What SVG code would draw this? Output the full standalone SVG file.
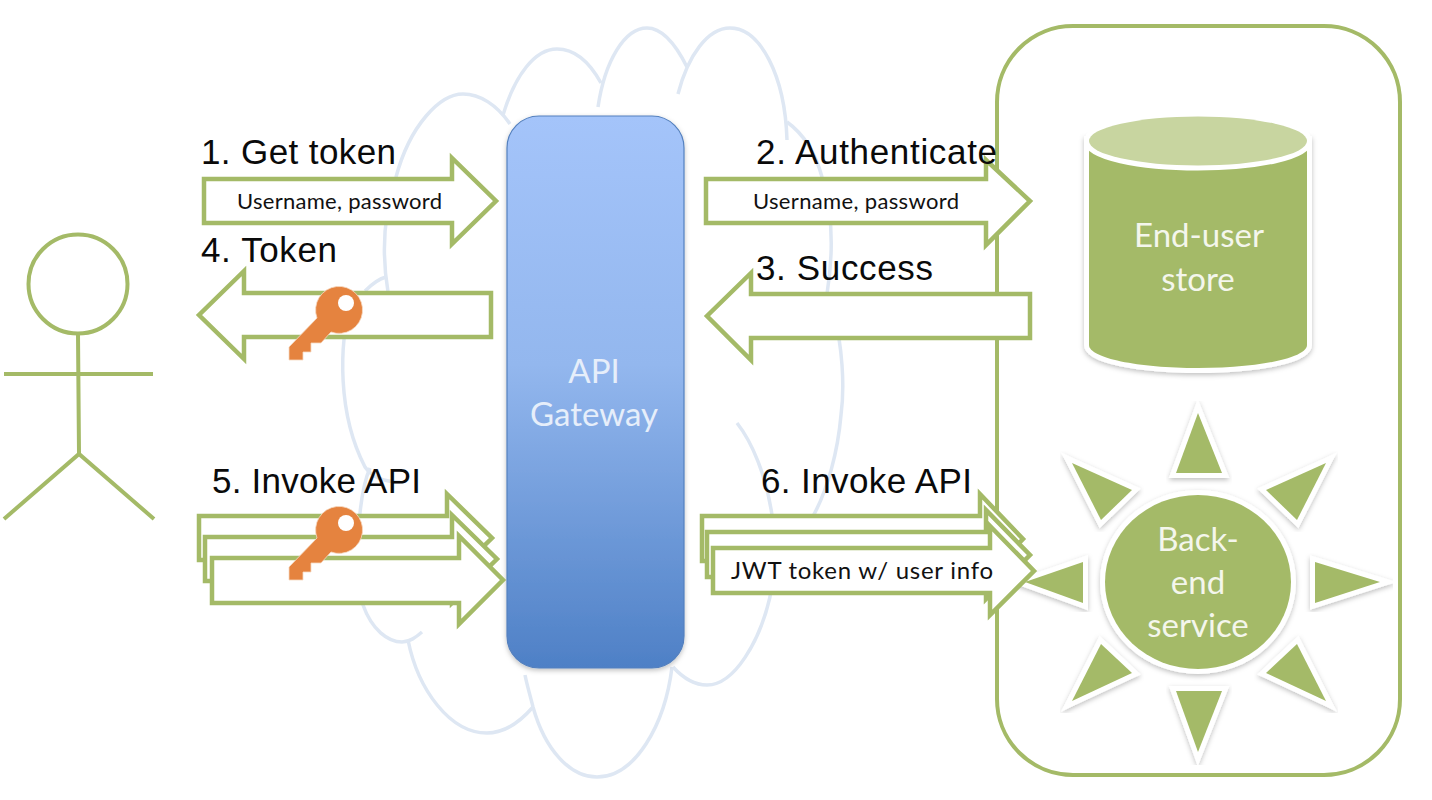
<svg xmlns="http://www.w3.org/2000/svg" width="1432" height="800" viewBox="0 0 1432 800">
<style>
.cloud{fill:none;stroke:#DEE7F3;stroke-width:3.5}
.arrow{fill:#fff;stroke:#A4BA67;stroke-width:4.5;stroke-miterlimit:10}
.fig{fill:none;stroke:#A4BA67;stroke-width:4}
.lbl{font-family:"Liberation Sans",Arial,sans-serif;font-size:35px;fill:#0a0a0a}
.sm{font-family:Lato,"Noto Sans",sans-serif;font-size:22px;fill:#111}
.wt{font-family:Lato,"Noto Sans",sans-serif;font-size:33px;fill:#F4F6EC;text-anchor:middle}
.gw{font-family:Lato,"Noto Sans",sans-serif;font-size:33px;fill:#E6EEFA;text-anchor:middle}
.ray{fill:#A4BA67;stroke:#fff;stroke-width:10;paint-order:stroke;filter:url(#sh)}
.key{fill:#E5833F;stroke:#F6D9C2;stroke-width:.8}
</style>
<defs>
<linearGradient id="gg" x1="0" y1="0" x2="0" y2="1"><stop offset="0" stop-color="#A4C4FA"/><stop offset=".45" stop-color="#93B7EE"/><stop offset="1" stop-color="#4E80C6"/></linearGradient>
<filter id="sh" x="-20%" y="-20%" width="140%" height="140%"><feDropShadow dx="0" dy="2" stdDeviation="2.5" flood-color="#000" flood-opacity=".25"/></filter>
<g id="keyshape"><path class="key" d="M317 318L289 347V360H303V352H311V343H321L331 332A23.5 23.5 0 1 0 317 318Z"/><circle cx="346" cy="303" r="8" fill="#fff"/></g>
</defs>
<rect width="1432" height="800" fill="#fff"/>
<g id="cloud">
<path class="cloud" d="M388 292C381 250 385 210 396 177C410 125 440 94 463 94C480 94 497 105 510 124"/>
<path class="cloud" d="M365 291C372 284 378 279 386 277"/>
<path class="cloud" d="M503 115C515 75 535 49 557 49C575 49 590 63 601 83"/>
<path class="cloud" d="M598 107C605 60 625 28 647 28C662 28 676 45 687 67"/>
<path class="cloud" d="M678 94C688 55 708 28 730 28C760 28 785 75 787 140"/>
<path class="cloud" d="M787 122C805 135 816 155 822 177C832 210 834 250 827 294"/>
<path class="cloud" d="M834 315C842 345 845 385 841 415C838 450 828 490 812 518"/>
<path class="cloud" d="M737 423C752 442 766 475 772 515C775 545 774 575 770 597C760 640 735 685 707 685C695 685 683 678 673 667"/>
<path class="cloud" d="M352 300C338 345 338 415 365 467C372 477 385 482 400 482"/>
<path class="cloud" d="M370 468C360 490 352 560 363 605C372 630 388 642 402 642C410 642 416 637 422 632"/>
<path class="cloud" d="M408 640C418 690 450 733 487 733C505 733 520 722 533 707"/>
<path class="cloud" d="M525 675C527 685 530 695 533 707C545 750 570 777 597 777C635 777 665 725 672 667"/>
</g>
<g id="container"><rect x="997" y="26" width="403" height="749" rx="76" ry="76" fill="none" stroke="#A4BA67" stroke-width="4"/></g>
<g id="gateway">
<rect x="507" y="116" width="177" height="552" rx="32" ry="32" fill="url(#gg)" stroke="#5480BE" stroke-width="1.2" filter="url(#sh)"/>
<text class="gw" x="594" y="383">API</text>
<text class="gw" x="594" y="426">Gateway</text>
</g>
<g id="user">
<circle class="fig" cx="78" cy="284" r="49.5"/>
<path class="fig" d="M78 334L79 454M4 374H153M4 519L79 454L154 519"/>
</g>
<g id="store">
<path d="M1089 141V345C1089 358 1138 368 1198 368S1307 358 1307 345V141Z" fill="#A4BA67" stroke="#fff" stroke-width="10" paint-order="stroke" filter="url(#sh)"/>
<ellipse cx="1198" cy="141" rx="109" ry="24.5" fill="#C8D5A0" stroke="#fff" stroke-width="10" paint-order="stroke"/>
<text class="wt" x="1199" y="247">End-user</text>
<text class="wt" x="1198" y="291">store</text>
</g>
<g id="service">
<polygon class="ray" points="1198,413 1176,473 1222,473"/>
<polygon class="ray" points="1198,752 1176,691 1222,691"/>
<polygon class="ray" points="1025,582 1083,562 1083,603"/>
<polygon class="ray" points="1380,582 1315,562 1315,603"/>
<polygon class="ray" points="1072,463 1132,490 1101,520"/>
<polygon class="ray" points="1326,463 1266,490 1297,520"/>
<polygon class="ray" points="1072,701 1132,673 1101,644"/>
<polygon class="ray" points="1326,701 1266,673 1297,644"/>
<ellipse cx="1198" cy="582" rx="93" ry="87" fill="#A4BA67" stroke="#fff" stroke-width="10" paint-order="stroke" filter="url(#sh)"/>
<text class="wt" x="1198" y="551">Back-</text>
<text class="wt" x="1198" y="594">end</text>
<text class="wt" x="1198" y="637">service</text>
</g>
<g id="connectors">
<polygon id="a1" class="arrow" points="204,179 452,179 452,158 496,201 452,244 452,223 204,223"/>
<polygon id="a2" class="arrow" points="706,179 986,179 986,160 1030,201 986,245 986,223 706,223"/>
<polygon id="a3" class="arrow" points="1030,294 751,294 751,273 707,316 751,360 751,338 1030,338"/>
<polygon id="a4" class="arrow" points="491,293 244,293 244,271 199,315 244,359 244,337 491,337"/>
<polygon id="a5a" class="arrow" points="199,516 447,516 447,494 492,538 447,582 447,560 199,560"/>
<polygon id="a5b" class="arrow" points="205,537 452,537 452,515 497,559 452,603 452,581 205,581"/>
<polygon id="a5c" class="arrow" points="212,558 459,558 459,536 503,580 459,624 459,603 212,603"/>
<polygon id="a6a" class="arrow" points="702,516 980,516 980,494 1023,539 980,583 980,561 702,561"/>
<polygon id="a6b" class="arrow" points="707,532 986,532 986,510 1030,555 986,599 986,577 707,577"/>
<polygon id="a6c" class="arrow" points="713,548 990,548 990,526 1034,571 990,615 990,593 713,593"/>
</g>
<g id="labels">
<text class="lbl" x="201" y="164" textLength="195">1. Get token</text>
<text class="lbl" x="201" y="262" textLength="136">4. Token</text>
<text class="lbl" x="756" y="164" textLength="241">2. Authenticate</text>
<text class="lbl" x="756" y="280" textLength="177">3. Success</text>
<text class="lbl" x="212" y="493" textLength="209">5. Invoke API</text>
<text class="lbl" x="761" y="493" textLength="211">6. Invoke API</text>
<text class="sm" x="237" y="209" textLength="205">Username, password</text>
<text class="sm" x="753" y="209" textLength="206">Username, password</text>
<text class="sm" x="731" y="579" style="font-size:24px" textLength="262">JWT token w/ user info</text>
</g>
<g id="key1"><use href="#keyshape"/></g>
<g id="key2"><use href="#keyshape" y="220"/></g>
</svg>
